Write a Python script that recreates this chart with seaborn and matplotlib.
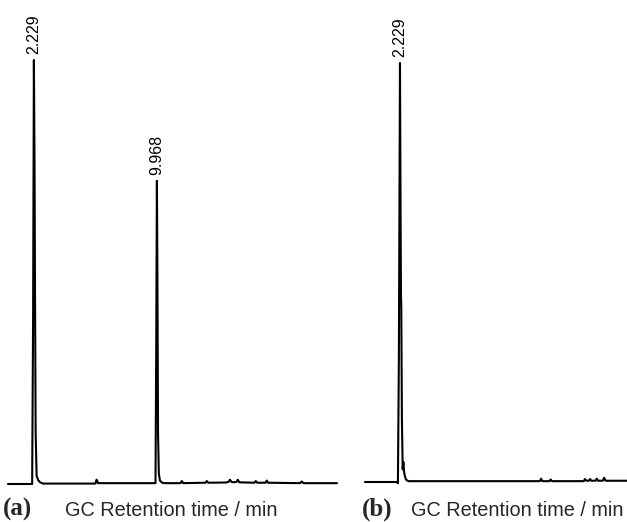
import matplotlib
matplotlib.use("Agg")
import matplotlib.pyplot as plt
import seaborn as sns
import pandas as pd

sns.set_theme(style="white")
plt.rcParams['font.family'] = ['Liberation Sans', 'DejaVu Sans']

# ---- data (time in min, relative intensity in %) ----
time_a = [0.6, 2.12, 2.18, 2.229, 2.27, 2.30, 2.34, 2.40, 2.50, 2.62, 2.80,
          6.10, 6.17, 6.20, 6.26, 9.88, 9.93, 9.968, 10.00, 10.04, 10.09,
          10.16, 10.30, 10.45, 11.45, 11.54, 11.62, 13.02, 13.11, 13.20,
          14.30, 14.48, 14.56, 14.66, 14.80, 14.98, 15.06, 15.15, 16.10,
          16.19, 16.28, 16.80, 16.88, 16.96, 18.98, 19.08, 19.18, 21.3]
sig_a = [0.0, 0.0, 40.0, 100.0, 75.0, 45.0, 12.0, 2.0, 0.9, 0.4, 0.1,
         0.1, 1.0, 0.9, 0.2, 0.2, 35.0, 71.5, 50.0, 12.0, 2.5,
         0.8, 0.3, 0.2, 0.2, 0.7, 0.2, 0.3, 0.7, 0.3,
         0.35, 0.5, 1.0, 0.5, 0.4, 0.5, 1.0, 0.4, 0.3,
         0.7, 0.3, 0.3, 0.8, 0.3, 0.2, 0.6, 0.2, 0.2]

time_b = [0.03, 2.02, 2.10, 2.16, 2.229, 2.26, 2.29, 2.31, 2.35, 2.40, 2.44,
          2.50, 2.60, 2.75, 11.02, 11.10, 11.18, 11.62, 11.70, 11.78, 13.78,
          13.86, 13.94, 14.10, 14.18, 14.26, 14.52, 14.60, 14.68, 14.98,
          15.06, 15.16, 16.5]
sig_b = [0.0, 0.0, -0.3, 30.0, 100.0, 70.0, 45.0, 42.0, 15.0, 3.0, 4.8,
         2.0, 0.6, 0.2, 0.2, 0.8, 0.2, 0.2, 0.6, 0.2, 0.2,
         0.7, 0.3, 0.3, 0.7, 0.3, 0.3, 0.8, 0.3, 0.3,
         1.0, 0.3, 0.3]

peak_rt_a = [2.229, 9.968]
peak_h_a = [100.0, 71.5]
peak_rt_b = [2.229]
peak_h_b = [100.0]

panel_letters = ["(a)", "(b)"]
xlabel_text = "GC Retention time / min"

W, H = 627, 522
fig = plt.figure(figsize=(W / 100, H / 100), dpi=100)

# axes rectangles in figure fractions (from pixel measurements)
ax_a = fig.add_axes([8 / W, 38 / H, 329 / W, 424 / H])
ax_b = fig.add_axes([365 / W, 40 / H, 262 / W, 419 / H])

panels = [
    (ax_a, time_a, sig_a, peak_rt_a, peak_h_a, (0.6, 21.3)),
    (ax_b, time_b, sig_b, peak_rt_b, peak_h_b, (0.03, 16.5)),
]

for ax, t, s, prt, ph, xl in panels:
    df = pd.DataFrame({"t": t, "s": s})
    sns.lineplot(data=df, x="t", y="s", ax=ax, color="black", lw=1.5,
                 sort=False, estimator=None)
    for line in ax.get_lines():
        line.set_clip_on(False)
    ax.set_xlim(*xl)
    ax.set_ylim(0, 100)
    ax.set_axis_off()
    for rt, h in zip(prt, ph):
        ax.annotate(f"{rt:.3f}", xy=(rt, h), xytext=(0, 4),
                    textcoords="offset points", rotation=90,
                    ha="center", va="bottom", fontsize=11.5, color="black")

# bottom labels
fig.text(3 / W, 6 / H, panel_letters[0], family="Liberation Serif",
         fontweight="bold", fontsize=18, va="baseline", ha="left")
fig.text(65 / W, 6 / H, xlabel_text, fontsize=14.3, va="baseline", ha="left")
fig.text(362 / W, 6 / H, panel_letters[1], family="Liberation Serif",
         fontweight="bold", fontsize=18, va="baseline", ha="left")
fig.text(411 / W, 6 / H, xlabel_text, fontsize=14.3, va="baseline", ha="left")

fig.savefig("out.png", dpi=100, facecolor="white")
